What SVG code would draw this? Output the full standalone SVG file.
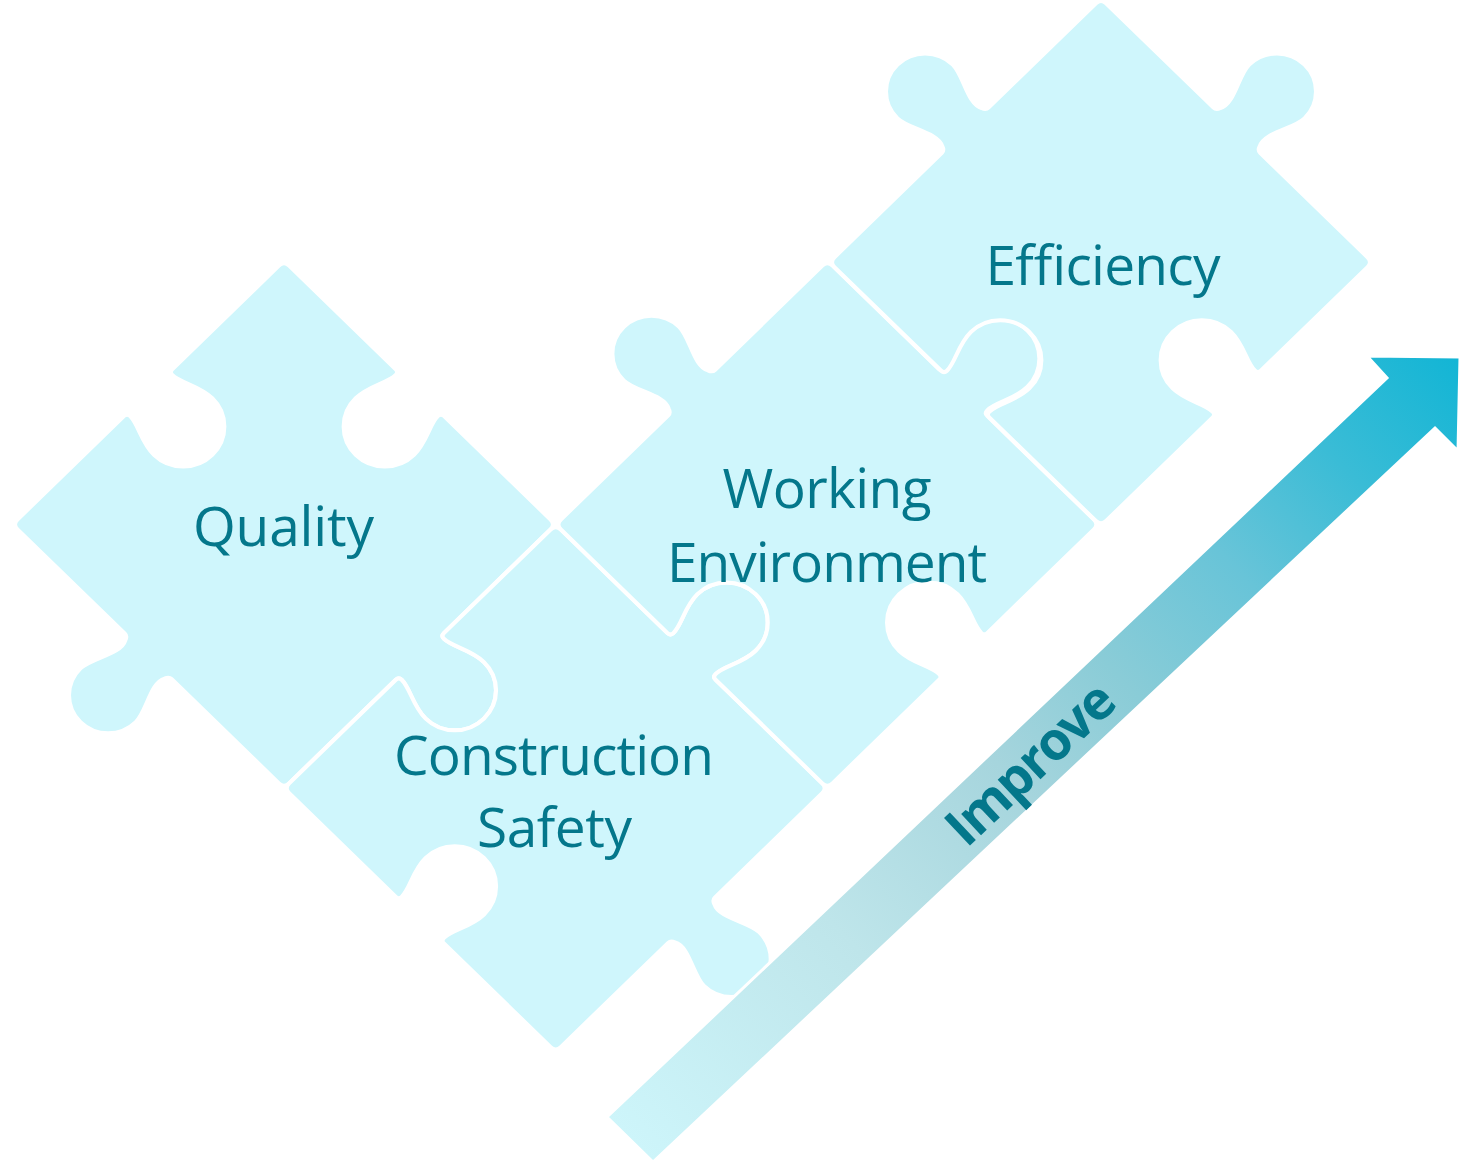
<svg xmlns="http://www.w3.org/2000/svg" width="1473" height="1164" viewBox="0 0 1473 1164">
<style>
.piece{fill:#CFF6FC;stroke:#FFFFFF;stroke-width:4;stroke-linejoin:round}
.lbl{font-family:"Open Sans","Noto Sans","DejaVu Sans",sans-serif;font-size:55px;fill:#04778B;text-anchor:middle}
.imp{font-family:"Open Sans","Noto Sans","DejaVu Sans",sans-serif;font-size:53px;font-weight:bold;fill:#04778B;text-anchor:middle}
.arrow{stroke:#FFFFFF;stroke-width:3;stroke-linejoin:miter}
</style>
<defs>
<linearGradient id="arrowGrad" gradientUnits="userSpaceOnUse" x1="630" y1="1140" x2="1460" y2="357">
<stop offset="0" stop-color="#CDF5FA"/>
<stop offset="0.26" stop-color="#BEE5EA"/>
<stop offset="0.46" stop-color="#A6D5DD"/>
<stop offset="0.59" stop-color="#8ACCD7"/>
<stop offset="0.73" stop-color="#68C4D8"/>
<stop offset="0.86" stop-color="#3ABCD6"/>
<stop offset="1" stop-color="#12B5D5"/>
</linearGradient>
</defs>

<g id="quality">
<path class="piece" transform="translate(284 524.5) scale(1.03 1) rotate(45)" d="M -179.5 -186.5 L -33 -186.5 Q -29 -186.5 -29 -182.5 C -29 -170.5 -40 -156.5 -40 -138.5 C -40 -116.4 -22.1 -98.5 0 -98.5 C 22.1 -98.5 40 -116.4 40 -138.5 C 40 -156.5 29 -170.5 29 -182.5 Q 29 -186.5 33 -186.5 L 179.5 -186.5 Q 186.5 -186.5 186.5 -179.5 L 186.5 -33 Q 186.5 -29 190.5 -29 C 202.5 -29 216.5 -40 234.5 -40 C 256.6 -40 274.5 -22.1 274.5 0 C 274.5 22.1 256.6 40 234.5 40 C 216.5 40 202.5 29 190.5 29 Q 186.5 29 186.5 33 L 186.5 179.5 Q 186.5 186.5 179.5 186.5 L 32 186.5 Q 28.5 186.5 27 191 C 20 203.5 38 226.5 38 241.5 C 38 262.5 21 279.5 0 279.5 C -21 279.5 -38 262.5 -38 241.5 C -38 226.5 -20 203.5 -27 191 Q -28.5 186.5 -32 186.5 L -179.5 186.5 Q -186.5 186.5 -186.5 179.5 L -186.5 33 Q -186.5 29 -182.5 29 C -170.5 29 -156.5 40 -138.5 40 C -116.4 40 -98.5 22.1 -98.5 0 C -98.5 -22.1 -116.4 -40 -138.5 -40 C -156.5 -40 -170.5 -29 -182.5 -29 Q -186.5 -29 -186.5 -33 L -186.5 -179.5 Q -186.5 -186.5 -179.5 -186.5 Z"/>
<text class="lbl" x="283.5" y="546" textLength="181">Quality</text>
</g>

<g id="construction-safety">
<path class="piece" transform="translate(555.7 788.3) scale(1.03 1) rotate(45)" d="M -179.5 -186.5 L -33 -186.5 Q -29 -186.5 -29 -190.5 C -29 -202.5 -40 -216.5 -40 -234.5 C -40 -256.6 -22.1 -274.5 0 -274.5 C 22.1 -274.5 40 -256.6 40 -234.5 C 40 -216.5 29 -202.5 29 -190.5 Q 29 -186.5 33 -186.5 L 179.5 -186.5 Q 186.5 -186.5 186.5 -179.5 L 186.5 -32 Q 186.5 -28.5 191 -27 C 203.5 -20 226.5 -38 241.5 -38 C 262.5 -38 279.5 -21 279.5 0 C 279.5 21 262.5 38 241.5 38 C 226.5 38 203.5 20 191 27 Q 186.5 28.5 186.5 32 L 186.5 179.5 Q 186.5 186.5 179.5 186.5 L 33 186.5 Q 29 186.5 29 182.5 C 29 170.5 40 156.5 40 138.5 C 40 116.4 22.1 98.5 0 98.5 C -22.1 98.5 -40 116.4 -40 138.5 C -40 156.5 -29 170.5 -29 182.5 Q -29 186.5 -33 186.5 L -179.5 186.5 Q -186.5 186.5 -186.5 179.5 L -186.5 33 Q -186.5 29 -182.5 29 C -170.5 29 -156.5 40 -138.5 40 C -116.4 40 -98.5 22.1 -98.5 0 C -98.5 -22.1 -116.4 -40 -138.5 -40 C -156.5 -40 -170.5 -29 -182.5 -29 Q -186.5 -29 -186.5 -33 L -186.5 -179.5 Q -186.5 -186.5 -179.5 -186.5 Z"/>
<text class="lbl" x="554" y="775" textLength="320">Construction</text>
<text class="lbl" x="554.5" y="847" textLength="155">Safety</text>
</g>

<g id="working-environment">
<path class="piece" transform="translate(827.4 524.5) scale(1.03 1) rotate(45)" d="M -179.5 -186.5 L -33 -186.5 Q -29 -186.5 -29 -190.5 C -29 -202.5 -40 -216.5 -40 -234.5 C -40 -256.6 -22.1 -274.5 0 -274.5 C 22.1 -274.5 40 -256.6 40 -234.5 C 40 -216.5 29 -202.5 29 -190.5 Q 29 -186.5 33 -186.5 L 179.5 -186.5 Q 186.5 -186.5 186.5 -179.5 L 186.5 -33 Q 186.5 -29 182.5 -29 C 170.5 -29 156.5 -40 138.5 -40 C 116.4 -40 98.5 -22.1 98.5 0 C 98.5 22.1 116.4 40 138.5 40 C 156.5 40 170.5 29 182.5 29 Q 186.5 29 186.5 33 L 186.5 179.5 Q 186.5 186.5 179.5 186.5 L 33 186.5 Q 29 186.5 29 182.5 C 29 170.5 40 156.5 40 138.5 C 40 116.4 22.1 98.5 0 98.5 C -22.1 98.5 -40 116.4 -40 138.5 C -40 156.5 -29 170.5 -29 182.5 Q -29 186.5 -33 186.5 L -179.5 186.5 Q -186.5 186.5 -186.5 179.5 L -186.5 32 Q -186.5 28.5 -191 27 C -203.5 20 -226.5 38 -241.5 38 C -262.5 38 -279.5 21 -279.5 0 C -279.5 -21 -262.5 -38 -241.5 -38 C -226.5 -38 -203.5 -20 -191 -27 Q -186.5 -28.5 -186.5 -32 L -186.5 -179.5 Q -186.5 -186.5 -179.5 -186.5 Z"/>
<text class="lbl" x="827" y="508" textLength="209">Working</text>
<text class="lbl" x="827" y="582" textLength="320">Environment</text>
</g>

<g id="efficiency">
<path class="piece" transform="translate(1101 262.2) scale(1.03 1) rotate(45)" d="M -179.5 -186.5 L -32 -186.5 Q -28.5 -186.5 -27 -191 C -20 -203.5 -38 -226.5 -38 -241.5 C -38 -262.5 -21 -279.5 0 -279.5 C 21 -279.5 38 -262.5 38 -241.5 C 38 -226.5 20 -203.5 27 -191 Q 28.5 -186.5 32 -186.5 L 179.5 -186.5 Q 186.5 -186.5 186.5 -179.5 L 186.5 -33 Q 186.5 -29 182.5 -29 C 170.5 -29 156.5 -40 138.5 -40 C 116.4 -40 98.5 -22.1 98.5 0 C 98.5 22.1 116.4 40 138.5 40 C 156.5 40 170.5 29 182.5 29 Q 186.5 29 186.5 33 L 186.5 179.5 Q 186.5 186.5 179.5 186.5 L 33 186.5 Q 29 186.5 29 182.5 C 29 170.5 40 156.5 40 138.5 C 40 116.4 22.1 98.5 0 98.5 C -22.1 98.5 -40 116.4 -40 138.5 C -40 156.5 -29 170.5 -29 182.5 Q -29 186.5 -33 186.5 L -179.5 186.5 Q -186.5 186.5 -186.5 179.5 L -186.5 32 Q -186.5 28.5 -191 27 C -203.5 20 -226.5 38 -241.5 38 C -262.5 38 -279.5 21 -279.5 0 C -279.5 -21 -262.5 -38 -241.5 -38 C -226.5 -38 -203.5 -20 -191 -27 Q -186.5 -28.5 -186.5 -32 L -186.5 -179.5 Q -186.5 -186.5 -179.5 -186.5 Z"/>
<text class="lbl" x="1103" y="285" textLength="235">Efficiency</text>
</g>

<g id="connectors">
<g id="improve-arrow">
<path class="arrow" fill="url(#arrowGrad)" d="M 607 1117 L 1387 378 L 1367 356 L 1460 357 L 1458 451 L 1435 428 L 653 1162 Z"/>
<text class="imp" transform="translate(1030 763) rotate(-43.3)" x="0" y="19" textLength="210">Improve</text>
</g>
</g>
</svg>
